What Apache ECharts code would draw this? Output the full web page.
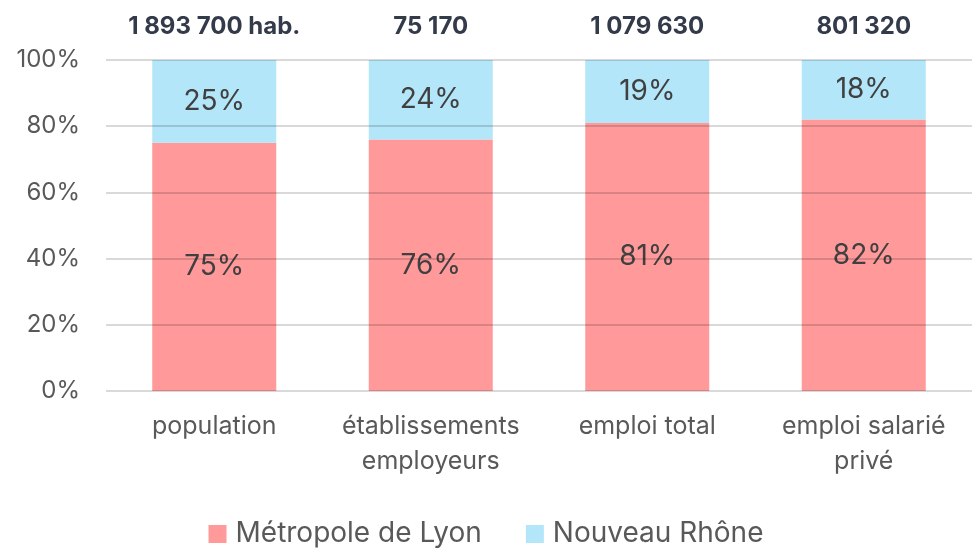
<!DOCTYPE html>
<html>
<head>
<meta charset="utf-8">
<script src="https://cdn.jsdelivr.net/npm/echarts@6/dist/echarts.min.js"></script>
<style>
  html, body { margin: 0; padding: 0; background: #fff; }
  #chart { width: 972px; height: 548px; }
</style>
</head>
<body>
<div id="chart"></div>
<script>
var categories = ['population', 'établissements\nemployeurs', 'emploi total', 'emploi salarié\nprivé'];
var totals = ['1 893 700 hab.', '75 170', '1 079 630', '801 320'];
var metropole = [75, 76, 81, 82];
var nouveauRhone = [25, 24, 19, 18];
var yTicks = [0, 20, 40, 60, 80, 100];

var font = 'Inter, Roboto, sans-serif';
var myChart = echarts.init(document.getElementById('chart'));

function labelStyle() {
    return {
        show: true,
        position: 'inside',
        fontFamily: font,
        fontSize: 28,
        color: '#404040',
        formatter: '{c}%'
    };
}

myChart.setOption({
    animation: false,
    grid: { left: 106, top: 60, width: 872, height: 331 },
    legend: {
        bottom: -5,
        left: 'center',
        itemWidth: 18,
        itemHeight: 18,
        itemGap: 44,
        icon: 'rect',
        textStyle: { fontFamily: font, fontSize: 28, color: '#595959', padding: [0, 0, 0, 4] },
        data: ['Métropole de Lyon', 'Nouveau Rhône']
    },
    xAxis: [{
        type: 'category',
        data: categories,
        axisLine: { show: false },
        axisTick: { show: false },
        axisLabel: {
            fontFamily: font,
            fontSize: 25,
            color: '#595959',
            lineHeight: 35,
            margin: 18,
            interval: 0
        }
    }, {
        type: 'category',
        position: 'top',
        data: totals,
        axisLine: { show: false },
        axisTick: { show: false },
        axisLabel: {
            fontFamily: font,
            fontSize: 24,
            fontWeight: 'bold',
            color: '#333a4a',
            margin: 21,
            interval: 0
        }
    }],
    yAxis: {
        type: 'value',
        min: 0,
        max: 100,
        interval: 20,
        z: 5,
        axisLine: { show: false },
        axisTick: { show: false },
        axisLabel: {
            fontFamily: font,
            fontSize: 24,
            color: '#595959',
            margin: 26,
            formatter: function (v) { return yTicks.indexOf(v) >= 0 ? v + '%' : ''; }
        },
        splitLine: { lineStyle: { color: 'rgba(0,0,0,0.15)', width: 2 } }
    },
    series: [{
        name: 'Métropole de Lyon',
        type: 'bar',
        stack: 'total',
        barWidth: 124,
        itemStyle: { color: '#ff999a' },
        label: labelStyle(),
        data: metropole
    }, {
        name: 'Nouveau Rhône',
        type: 'bar',
        stack: 'total',
        barWidth: 124,
        itemStyle: { color: '#b3e6f8' },
        label: labelStyle(),
        data: nouveauRhone
    }]
});
</script>
</body>
</html>
